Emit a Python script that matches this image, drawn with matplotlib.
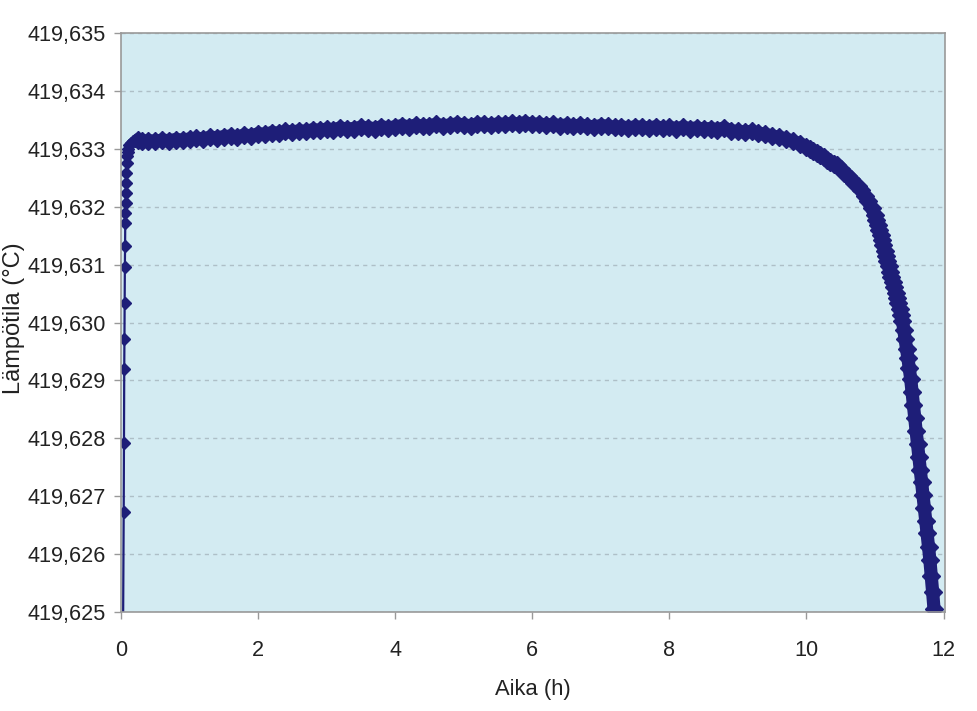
import matplotlib
matplotlib.use("Agg")
import matplotlib.pyplot as plt
from matplotlib.ticker import FuncFormatter, MultipleLocator

plt.rcParams['font.family'] = ['Liberation Sans', 'DejaVu Sans']

# time (h) and temperature (°C)
rise_t = [0.030, 0.040, 0.044, 0.048, 0.051, 0.054, 0.057, 0.060, 0.063, 0.066,
          0.069, 0.072, 0.075, 0.080, 0.085, 0.090, 0.097, 0.105, 0.12, 0.14,
          0.17, 0.20, 0.25]
rise_T = [419.6245, 419.62673, 419.62792, 419.62920, 419.62972, 419.63034, 419.63096,
          419.63132, 419.63172, 419.63189, 419.63206, 419.63224, 419.63241, 419.63258,
          419.63275, 419.63287, 419.63295, 419.63300, 419.63306, 419.63310, 419.63313,
          419.63314, 419.63316]

plateau_t = [round(0.3 + 0.1 * i, 1) for i in range(97)]
plateau_T = [419.63313, 419.63314, 419.63313, 419.63315, 419.63314, 419.63316, 419.63315,
             419.63317, 419.63318, 419.63317, 419.63320, 419.63319, 419.63321, 419.63322,
             419.63320, 419.63324, 419.63322, 419.63326, 419.63325, 419.63328, 419.63327,
             419.63330, 419.63329, 419.63331, 419.63330, 419.63333, 419.63332, 419.63334,
             419.63333, 419.63336, 419.63334, 419.63335, 419.63337, 419.63336, 419.63335,
             419.63338, 419.63336, 419.63338, 419.63340, 419.63338, 419.63341, 419.63339,
             419.63340, 419.63342, 419.63340, 419.63341, 419.63343, 419.63341, 419.63340,
             419.63343, 419.63342, 419.63341, 419.63343, 419.63342, 419.63344, 419.63343,
             419.63345, 419.63342, 419.63343, 419.63341, 419.63342, 419.63340, 419.63341,
             419.63339, 419.63341, 419.63339, 419.63338, 419.63340, 419.63339, 419.63337,
             419.63338, 419.63336, 419.63338, 419.63337, 419.63336, 419.63338, 419.63336,
             419.63337, 419.63335, 419.63337, 419.63335, 419.63336, 419.63334, 419.63335,
             419.63333, 419.63336, 419.63331, 419.63330, 419.63329, 419.63330, 419.63327,
             419.63325, 419.63322, 419.63320, 419.63317, 419.63313, 419.63309]

knee_t = [10.00, 10.05, 10.10, 10.15, 10.20, 10.25, 10.30, 10.35, 10.40, 10.45,
          10.50, 10.55, 10.60, 10.65, 10.70, 10.75, 10.80, 10.85, 10.90, 10.95]
knee_T = [419.63303, 419.63300, 419.63297, 419.63293, 419.63290, 419.63285, 419.63281,
          419.63278, 419.63274, 419.63272, 419.63265, 419.63259, 419.63253, 419.63247,
          419.63241, 419.63235, 419.63228, 419.63219, 419.63209, 419.63198]

fall_t = [11.00, 11.02, 11.04, 11.06, 11.08, 11.10, 11.12, 11.14, 11.16, 11.18,
          11.20, 11.22, 11.24, 11.26, 11.28, 11.30, 11.32, 11.34, 11.36, 11.38,
          11.40, 11.42, 11.44, 11.46, 11.48, 11.50, 11.52, 11.54, 11.56, 11.58,
          11.60, 11.62, 11.64, 11.66, 11.68, 11.70, 11.72, 11.74, 11.76, 11.78,
          11.80, 11.82, 11.84, 11.86]
fall_T = [419.63185, 419.63177, 419.63169, 419.63160, 419.63151, 419.63142, 419.63133,
          419.63124, 419.63115, 419.63106, 419.63097, 419.63088, 419.63079, 419.63070,
          419.63061, 419.63051, 419.63042, 419.63033, 419.63023, 419.63013, 419.63003,
          419.62987, 419.62971, 419.62955, 419.62938, 419.62921, 419.62903, 419.62880,
          419.62857, 419.62835, 419.62812, 419.62790, 419.62768, 419.62746, 419.62724,
          419.62702, 419.62680, 419.62658, 419.62636, 419.62613, 419.62590, 419.62563,
          419.62535, 419.62506]

x_ticks = [0, 2, 4, 6, 8, 10, 12]

navy = '#1e1e78'
grey = '#999999'

fig = plt.figure(figsize=(9.77, 7.11), dpi=100)
ax = fig.add_axes([0.1238, 0.1392, 0.8434, 0.8144])
ax.set_facecolor('#d3ebf2')

# sparse start: thin line with single diamonds
ax.plot(rise_t, rise_T, color=navy, lw=1.6, marker='D', markersize=6.5,
        markerfacecolor=navy, markeredgecolor=navy, solid_joinstyle='round')
# dense part: markers overlap into a thick band
rest_t = rise_t[-1:] + plateau_t + knee_t + fall_t
rest_T = rise_T[-1:] + plateau_T + knee_T + fall_T
ax.plot(rest_t, rest_T, color=navy, lw=9.5, marker='D', markersize=9,
        markerfacecolor=navy, markeredgecolor=navy,
        solid_joinstyle='round', solid_capstyle='round')

ax.set_xlim(0, 12.02)
ax.set_ylim(419.625, 419.635)
ax.set_xticks(x_ticks)
ax.yaxis.set_major_locator(MultipleLocator(0.001))
ax.yaxis.set_major_formatter(FuncFormatter(lambda v, p: f"{v:.3f}".replace('.', ',')))

ax.yaxis.grid(True, color='#aebfc7', linestyle=(0, (3, 3)), lw=1)
ax.set_axisbelow(True)

for s in ax.spines.values():
    s.set_color(grey)
    s.set_linewidth(1.2)
ax.tick_params(axis='both', colors=grey, labelcolor='#222222', labelsize=15.6,
               length=5, width=1)
ax.tick_params(axis='x', pad=15)
ax.tick_params(axis='y', pad=6)

ax.set_xlabel("Aika (h)", fontsize=15.8, color='#222222', labelpad=13)
ax.set_ylabel("Lämpötila (°C)", fontsize=17, color='#222222')
ax.yaxis.set_label_coords(-0.1165, 0.507)

fig.savefig("out.png", dpi=100)
